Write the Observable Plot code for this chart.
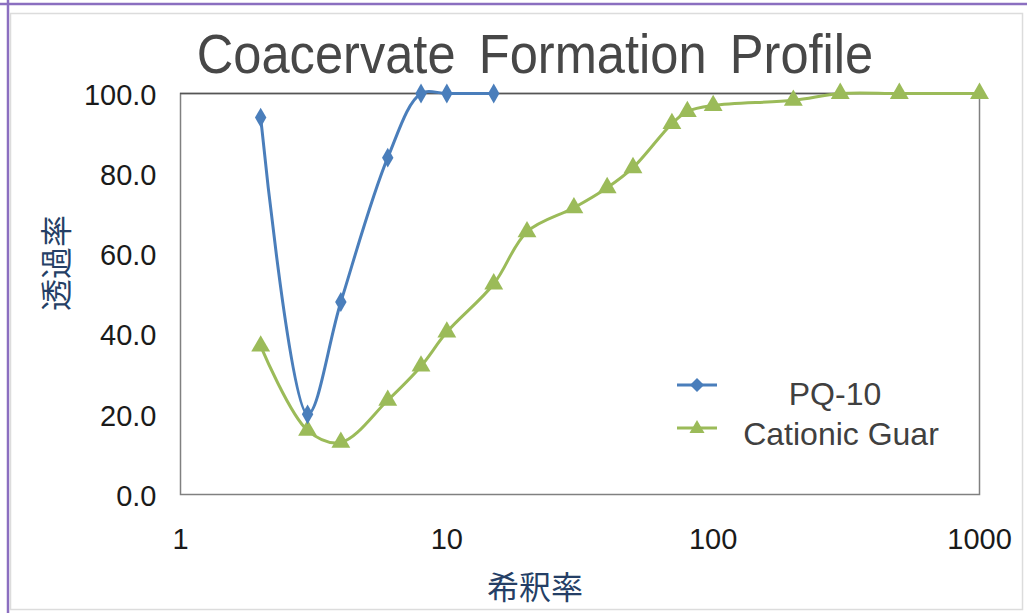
<!DOCTYPE html>
<html>
<head>
<meta charset="utf-8">
<script src="https://cdn.jsdelivr.net/npm/d3@7"></script>
<script src="https://cdn.jsdelivr.net/npm/@observablehq/plot@0.6"></script>
<style>
  html, body { margin: 0; padding: 0; background: #fff; }
  #wrap { position: relative; width: 1027px; height: 613px; overflow: hidden; background: #fff; font-family: "Liberation Sans", Arial, sans-serif; }
  #chart { position: absolute; left: 0; top: 0; }
  .abs { position: absolute; white-space: nowrap; }
  #title { left: 535px; top: 22px; transform: translateX(-50%) scaleX(0.92); font-size: 55px; color: #474747; word-spacing: 10px; }
  #xlabel { left: 535px; top: 562px; transform: translateX(-50%); font-family: "Noto Sans CJK JP", sans-serif; font-size: 32px; color: #253f66; }
  #ylabel { left: 54px; top: 263px; transform: translate(-50%, -50%) rotate(-90deg); font-family: "Noto Sans CJK JP", sans-serif; font-size: 32px; color: #253f66; }
</style>
</head>
<body>
<div id="wrap">
  <div id="chart"></div>
  <div class="abs" id="title">Coacervate Formation Profile</div>
  <div class="abs" id="xlabel">希釈率</div>
  <div class="abs" id="ylabel">透過率</div>
  <svg class="abs" style="left:0;top:0" width="1027" height="613">
    <line x1="0" y1="4" x2="1027" y2="4" stroke="#8b6fc0" stroke-width="2.5"/>
    <line x1="8" y1="0" x2="8" y2="613" stroke="#8b6fc0" stroke-width="2.5"/>
    <rect x="10.5" y="13.5" width="1012" height="596" fill="none" stroke="#dcdcdc" stroke-width="1.5"/>
    <line x1="677" y1="385" x2="717" y2="385" stroke="#4a7ebb" stroke-width="3"/>
    <path d="M697,378 L704,385 L697,392 L690,385 Z" fill="#4a7ebb"/>
    <line x1="677" y1="428" x2="717" y2="428" stroke="#9bbb59" stroke-width="3"/>
    <path d="M697,420 L704.5,433 L689.5,433 Z" fill="#9bbb59"/>
    <text x="835" y="405" text-anchor="middle" font-family="Liberation Sans, Arial, sans-serif" font-size="32" fill="#404040">PQ-10</text>
    <text x="841" y="445" text-anchor="middle" font-family="Liberation Sans, Arial, sans-serif" font-size="32" fill="#404040">Cationic Guar</text>
  </svg>
</div>
<script>
// Data
const pqX = [2, 3, 4, 6, 8, 10, 15];
const pqY = [94, 20, 48, 84, 100, 100, 100];
const guarX = [2, 3, 4, 6, 8, 10, 15, 20, 30, 40, 50, 70, 80, 100, 200, 300, 500, 1000];
const guarY = [37, 16, 13, 23.5, 32, 40.5, 52.5, 65.5, 71.5, 76.5, 81.5, 92.5, 95.5, 97, 98.3, 100, 100, 100];
const xTicks = [1, 10, 100, 1000];
const yTicks = [0, 20, 40, 60, 80, 100];

const pq = pqX.map((x, i) => ({x, y: pqY[i]}));
const guar = guarX.map((x, i) => ({x, y: guarY[i]}));

const blue = "#4a7ebb";
const green = "#9bbb59";

const chart = Plot.plot({
  width: 1027,
  height: 613,
  marginLeft: 180,
  marginRight: 48,
  marginTop: 93,
  marginBottom: 119,
  style: {fontFamily: "Liberation Sans, Arial, sans-serif", fontSize: "29px", color: "#1a1a1a", background: "transparent", overflow: "visible"},
  x: {type: "log", domain: [1, 1000], ticks: xTicks, tickFormat: d => String(d), label: null},
  y: {domain: [0, 100], ticks: yTicks, tickFormat: d3.format(".1f"), label: null},
  marks: [
    Plot.axisX({ticks: xTicks, tickFormat: d => String(d), tickSize: 0, tickPadding: 34, label: null, fill: "#1a1a1a"}),
    Plot.axisY({ticks: yTicks, tickFormat: d3.format(".1f"), tickSize: 0, tickPadding: 24, label: null, fill: "#1a1a1a", dy: 2}),
    Plot.frame({stroke: "#808080", strokeWidth: 1.5}),
    Plot.ruleY([100], {stroke: "#555", strokeWidth: 1.5}),
    Plot.line(guar, {x: "x", y: "y", stroke: green, strokeWidth: 3, curve: "catmull-rom"}),
    Plot.dot(guar, {x: "x", y: "y", symbol: "triangle", r: 7, fill: green}),
    Plot.line(pq, {x: "x", y: "y", stroke: blue, strokeWidth: 3, curve: "catmull-rom"}),
    Plot.dot(pq, {x: "x", y: "y", symbol: "diamond", r: 6, fill: blue})
  ]
});
document.getElementById("chart").appendChild(chart);
</script>
</body>
</html>
